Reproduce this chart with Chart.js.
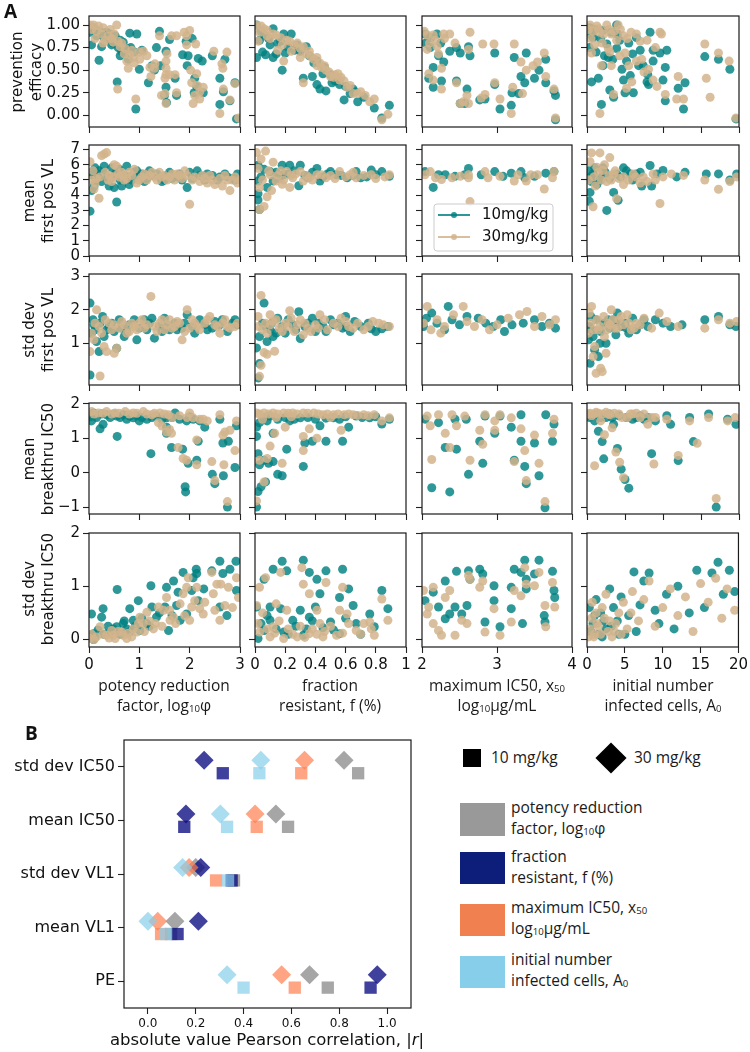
<!DOCTYPE html>
<html><head><meta charset="utf-8">
<script src="https://cdn.jsdelivr.net/npm/chart.js@4.4.1/dist/chart.umd.min.js"></script>
<style>
body{margin:0;background:#fff;width:750px;height:1052px;position:relative;overflow:hidden;font-family:'DejaVu Sans',sans-serif;color:#111}
canvas{position:absolute}
.lbl{position:absolute;text-align:center;font-family:'Open Sans',sans-serif;font-size:15.5px;line-height:20px;white-space:nowrap;color:#1a1a1a}
.lbl sub,.leg sub{font-size:0.62em;vertical-align:-1px;line-height:0}
.yt{position:absolute;transform:translate(-50%,-50%) rotate(-90deg);text-align:center;font-family:'DejaVu Sans',sans-serif;font-size:15px;line-height:19px;white-space:nowrap;color:#111}
.leg{position:absolute;font-family:'Open Sans',sans-serif;font-size:15.5px;line-height:21px;white-space:nowrap;color:#1a1a1a}
.pl{position:absolute;font-family:'Open Sans',sans-serif;font-weight:700;font-size:19px;color:#111}
.sw{position:absolute}
</style></head><body>
<script>
// ---------------- Panel A data (x = parameter, y = outcome) ----------------
// column 1: potency reduction factor log10(phi)
const phi_PE_10=[[0.02,0.92],[0.05,0.78],[0.2,0.61],[0.25,0.76],[0.45,0.78],[0.56,0.37],[0.62,0.83],[0.81,0.91],[0.95,0.9],[0.93,0.07],[1.0,0.51],[0.83,0.75],[1.18,0.36],[1.4,0.93],[1.34,0.75],[1.5,0.22],[1.54,0.14],[1.53,0.71],[1.53,0.31],[1.42,0.55],[1.71,0.41],[1.74,0.22],[1.86,0.67],[1.97,0.66],[1.93,0.82],[2.1,0.41],[2.14,0.32],[2.09,0.25],[2.27,0.25],[2.17,0.63],[2.45,0.66],[2.6,0.41],[2.6,0.12],[2.67,0.26],[2.8,0.16],[2.7,0.62],[2.93,-0.04],[2.9,0.36],[0.12,0.95],[0.35,0.92],[0.52,0.88],[0.68,0.81],[0.75,0.74],[0.65,0.71],[0.38,0.85],[0.62,0.66],[0.08,0.97],[0.15,0.88],[0.22,0.93],[0.3,0.86],[0.42,0.9],[0.48,0.8],[0.58,0.75],[0.7,0.7],[0.78,0.62],[0.9,0.7],[1.05,0.72],[1.25,0.55],[1.3,0.5],[1.6,0.84],[1.95,0.55],[2.05,0.85],[2.25,0.6]];
const phi_PE_30=[[0.09,1.0],[0.19,0.99],[0.28,0.97],[0.55,1.0],[0.57,0.29],[0.12,0.85],[0.28,0.8],[0.72,0.74],[0.78,0.52],[0.93,0.18],[1.01,0.62],[1.08,0.71],[1.23,0.43],[1.21,0.53],[1.4,0.88],[1.53,0.6],[1.53,0.52],[1.51,0.41],[1.51,0.24],[1.44,0.22],[1.53,0.13],[1.64,0.88],[1.71,0.45],[1.74,0.25],[1.89,0.92],[1.94,0.88],[2.0,0.94],[1.94,0.78],[2.04,0.36],[2.1,0.22],[2.14,0.46],[2.2,0.18],[2.27,0.31],[2.07,0.13],[2.12,0.79],[2.6,0.02],[2.64,0.57],[2.66,0.52],[2.67,0.29],[2.74,0.7],[2.8,0.17],[2.9,0.35],[2.48,0.71],[2.97,-0.03],[0.02,1.0],[0.42,0.95],[0.48,0.81],[0.62,0.76],[0.81,0.67],[0.88,0.64],[1.31,0.57],[1.74,0.88],[0.05,0.95],[0.15,0.93],[0.25,0.9],[0.32,0.83],[0.38,0.88],[0.45,0.85],[0.5,0.9],[0.58,0.82],[0.65,0.8],[0.7,0.68],[0.75,0.6],[0.85,0.72],[0.9,0.58],[1.0,0.7],[1.15,0.66],[1.3,0.52],[1.55,0.68],[1.6,0.45],[2.02,0.5],[2.15,0.33],[2.2,0.26],[1.53,0.45]];
const phi_mVL_10=[[0.02,2.95],[0.55,3.55],[0.05,4.3],[0.1,4.6],[0.05,5.5],[0.12,5.8],[0.2,5.6],[0.3,5.9],[0.35,5.2],[0.45,5.8],[0.5,4.5],[0.6,5.7],[0.7,5.3],[0.75,5.9],[0.8,4.7],[0.9,5.5],[1.0,5.2],[1.1,4.9],[1.2,5.6],[1.35,5.4],[1.5,5.0],[1.6,5.5],[1.75,5.2],[1.8,5.4],[1.95,4.5],[2.05,5.1],[2.15,5.6],[2.3,5.0],[2.45,5.3],[2.6,5.2],[2.7,5.4],[2.85,5.1],[2.95,5.4],[0.15,5.0],[0.25,4.9],[0.4,4.6],[0.65,4.6],[0.85,5.0],[1.45,4.9],[2.0,5.5],[0.08,5.3],[0.18,5.4],[0.28,5.5],[0.42,5.1],[0.52,5.4],[0.62,5.0],[0.78,5.2],[0.95,5.6],[1.05,5.4],[1.15,5.1],[1.25,5.3],[1.4,5.2],[1.55,5.3],[1.65,5.1],[1.85,5.0],[2.2,5.3],[2.35,5.4],[2.55,5.0],[2.75,5.2],[2.9,5.0]];
const phi_mVL_30=[[0.02,6.2],[0.25,6.6],[0.3,6.7],[0.35,6.8],[0.2,3.8],[0.1,4.4],[0.15,5.1],[0.4,5.3],[0.5,6.0],[0.55,5.9],[0.6,5.2],[0.7,5.0],[0.8,5.5],[0.9,5.7],[1.0,5.0],[1.1,5.4],[1.2,5.3],[1.3,5.2],[1.4,5.5],[1.5,5.3],[1.55,5.0],[1.7,5.0],[1.8,5.3],[1.9,5.6],[2.0,3.4],[2.1,5.2],[2.2,4.9],[2.3,5.1],[2.4,5.3],[2.5,4.7],[2.65,4.6],[2.75,5.0],[2.8,4.3],[2.9,5.2],[3.0,5.0],[0.05,5.0],[0.45,4.9],[0.65,5.5],[0.95,4.8],[1.65,5.4],[0.08,5.6],[0.12,4.8],[0.22,5.2],[0.32,5.5],[0.38,5.0],[0.48,5.2],[0.58,5.4],[0.68,5.3],[0.75,5.1],[0.85,5.3],[1.05,5.2],[1.15,5.0],[1.25,5.5],[1.35,5.0],[1.45,5.2],[1.6,5.2],[1.75,5.4],[1.85,5.1],[1.95,5.3],[2.05,5.0],[2.25,5.3],[2.35,4.8],[2.45,5.0],[2.6,5.1],[2.7,5.3],[2.85,5.0],[2.95,4.8]];
const phi_sVL_10=[[0.02,0.05],[0.02,2.2],[0.05,1.3],[0.1,1.55],[0.15,1.05],[0.2,0.75],[0.27,1.8],[0.3,1.2],[0.4,1.5],[0.5,1.35],[0.55,0.85],[0.6,1.7],[0.7,1.2],[0.8,1.55],[0.95,1.1],[1.0,1.45],[1.1,1.7],[1.2,1.6],[1.3,1.15],[1.4,1.5],[1.5,1.75],[1.6,1.4],[1.7,1.6],[1.85,1.45],[1.95,1.85],[2.05,1.5],[2.2,1.7],[2.35,1.4],[2.5,1.65],[2.6,1.55],[2.75,1.35],[2.85,1.6],[2.95,1.55],[0.35,1.4],[0.75,1.35],[1.45,1.35],[2.1,1.3],[0.08,1.7],[0.12,1.4],[0.22,1.6],[0.45,1.6],[0.65,1.45],[0.9,1.7],[1.15,1.4],[1.25,1.75],[1.55,1.55],[1.75,1.4],[1.9,1.6],[2.3,1.55],[2.45,1.45],[2.65,1.7],[2.9,1.7]];
const phi_sVL_30=[[0.22,0.02],[0.02,0.75],[0.1,1.1],[0.15,2.0],[0.3,0.9],[0.35,0.75],[0.5,0.7],[0.55,0.85],[0.2,1.5],[0.4,1.6],[0.6,1.45],[0.7,1.55],[0.8,1.35],[0.9,1.5],[1.0,1.6],[1.1,1.45],[1.23,2.4],[1.3,1.5],[1.4,1.6],[1.5,1.4],[1.6,1.7],[1.7,1.5],[1.8,1.6],[1.9,1.35],[1.95,2.0],[2.05,1.7],[2.15,1.5],[2.3,1.6],[2.4,1.8],[2.55,1.5],[2.7,1.7],[2.8,1.45],[2.95,1.6],[1.85,1.1],[2.6,1.3],[0.05,1.3],[0.12,1.6],[0.25,1.3],[0.32,1.7],[0.45,1.4],[0.5,1.55],[0.65,1.65],[0.75,1.3],[0.85,1.6],[0.95,1.4],[1.05,1.7],[1.15,1.55],[1.35,1.35],[1.45,1.7],[1.55,1.55],[1.65,1.45],[1.75,1.65],[2.0,1.45],[2.1,1.6],[2.2,1.4],[2.35,1.7],[2.5,1.55],[2.65,1.6],[2.75,1.5],[2.9,1.5]];
const phi_mIC_10=[[0.05,1.5],[0.22,1.27],[0.28,1.4],[0.56,1.05],[0.81,1.64],[1.0,1.5],[1.23,0.55],[1.54,1.14],[1.64,0.73],[1.71,1.73],[1.86,0.68],[1.91,-0.41],[1.92,-0.56],[1.97,0.27],[2.14,0.36],[2.17,0.91],[2.07,1.55],[2.3,1.32],[2.45,-0.05],[2.5,-0.32],[2.6,1.55],[2.66,0.86],[2.67,-0.09],[2.77,0.91],[2.75,-1.0],[2.9,0.15],[2.93,1.36],[0.09,1.73],[0.35,1.68],[0.55,1.64],[0.68,1.68],[0.88,1.59],[1.15,1.55],[1.34,1.64],[1.54,1.59],[1.94,1.5],[1.54,1.32],[0.02,1.62],[0.15,1.6],[0.25,1.7],[0.42,1.6],[0.5,1.7],[0.62,1.6],[0.75,1.55],[0.95,1.65],[1.05,1.6],[1.25,1.6],[1.45,1.55],[1.65,1.6],[1.8,1.55],[2.0,1.62],[2.2,1.5]];
const phi_mIC_30=[[0.05,1.77],[0.19,1.73],[0.35,1.77],[0.52,1.73],[0.72,1.77],[0.88,1.73],[1.08,1.77],[1.25,1.68],[1.41,1.73],[1.58,1.68],[1.38,1.45],[1.54,1.18],[1.64,1.14],[1.77,0.73],[1.87,0.41],[1.94,0.36],[2.0,1.73],[2.07,1.59],[2.14,0.23],[2.27,1.55],[2.44,0.32],[2.5,-0.23],[2.6,1.68],[2.66,1.09],[2.68,0.23],[2.8,1.23],[2.75,-0.84],[2.9,0.64],[2.93,1.5],[2.14,0.95],[2.7,1.18],[0.1,1.7],[0.28,1.72],[0.45,1.7],[0.6,1.72],[0.8,1.7],[0.95,1.72],[1.15,1.7],[1.3,1.72],[1.5,1.7],[1.65,1.6],[1.8,1.65],[1.95,1.6],[2.2,1.55],[2.35,1.5],[1.45,1.35],[1.6,1.25]];
const phi_sIC_10=[[0.05,0.48],[0.09,0.11],[0.25,0.42],[0.28,0.58],[0.56,0.94],[0.68,0.3],[0.81,0.58],[0.98,0.73],[1.01,0.17],[1.23,1.01],[1.25,0.61],[1.51,0.61],[1.54,0.98],[1.58,0.17],[1.77,0.89],[1.74,0.64],[1.68,1.1],[1.87,1.26],[1.94,0.48],[2.04,0.92],[2.07,1.16],[2.13,1.32],[2.14,1.24],[2.17,0.73],[2.28,0.95],[2.44,1.29],[2.6,1.47],[2.6,0.61],[2.66,1.24],[2.74,0.45],[2.92,1.47],[2.93,0.92],[2.8,1.32],[0.12,0.05],[0.42,0.14],[0.55,0.24],[0.75,0.2],[0.88,0.36],[1.15,0.3],[1.34,0.42],[1.81,0.36],[0.09,0.0],[0.02,0.08],[0.18,0.18],[0.3,0.1],[0.38,0.25],[0.48,0.2],[0.62,0.1],[0.7,0.35],[0.82,0.15],[0.92,0.25],[1.05,0.4],[1.2,0.25],[1.4,0.5],[1.65,0.45]];
const phi_sIC_30=[[0.02,0.02],[0.15,0.05],[0.22,0.24],[0.35,0.08],[0.45,0.17],[0.52,0.02],[0.65,0.14],[0.75,0.02],[0.85,0.05],[0.95,0.14],[1.01,0.42],[1.08,0.3],[1.15,0.51],[1.28,0.2],[1.38,0.61],[1.48,0.55],[1.54,0.79],[1.61,0.36],[1.68,0.42],[1.81,0.67],[1.87,0.86],[1.94,0.98],[1.97,1.16],[2.0,0.36],[2.04,0.61],[2.1,0.73],[2.14,0.98],[2.2,0.58],[2.27,0.48],[2.44,1.26],[2.47,0.86],[2.54,1.04],[2.6,0.36],[2.62,1.04],[2.7,0.64],[2.77,0.98],[2.93,1.16],[2.97,0.79],[0.05,0.1],[0.1,0.0],[0.28,0.1],[0.4,0.03],[0.48,0.08],[0.58,0.15],[0.68,0.08],[0.78,0.12],[0.88,0.2],[0.98,0.3],[1.1,0.15],[1.2,0.35],[1.32,0.3],[1.45,0.25],[1.6,0.55],[1.72,0.3],[1.9,0.45],[2.3,0.7],[2.5,0.55],[2.85,0.6]];
// column 2: fraction resistant f
const f_PE_10=[[0.01,1.0],[0.03,0.83],[0.01,0.64],[0.07,0.67],[0.12,0.96],[0.12,0.64],[0.18,0.5],[0.2,0.69],[0.24,0.9],[0.28,0.78],[0.34,0.76],[0.32,0.41],[0.38,0.43],[0.41,0.34],[0.43,0.29],[0.46,0.53],[0.47,0.27],[0.51,0.36],[0.56,0.34],[0.59,0.17],[0.63,0.24],[0.65,0.29],[0.68,0.15],[0.79,0.08],[0.89,0.11],[0.84,-0.03],[0.1,0.78],[0.17,0.82],[0.22,0.75],[0.3,0.71],[0.41,0.6],[0.45,0.46],[0.55,0.39],[0.06,0.89],[0.19,0.9],[0.04,0.93],[0.09,0.85],[0.15,0.8],[0.26,0.72],[0.36,0.66],[0.39,0.58],[0.5,0.45],[0.53,0.38],[0.6,0.32],[0.66,0.26],[0.72,0.2],[0.05,0.7],[0.14,0.68]];
const f_PE_30=[[0.01,1.0],[0.04,0.99],[0.08,0.94],[0.14,0.89],[0.21,0.83],[0.28,0.8],[0.32,0.76],[0.34,0.68],[0.39,0.62],[0.41,0.55],[0.44,0.53],[0.32,0.36],[0.5,0.43],[0.55,0.46],[0.56,0.39],[0.61,0.31],[0.65,0.24],[0.68,0.24],[0.76,0.15],[0.79,0.18],[0.84,-0.05],[0.88,0.01],[0.03,0.92],[0.1,0.85],[0.18,0.78],[0.19,0.6],[0.24,0.71],[0.3,0.64],[0.36,0.71],[0.41,0.64],[0.47,0.5],[0.53,0.45],[0.59,0.38],[0.02,0.82],[0.06,0.96],[0.12,0.9],[0.17,0.86],[0.23,0.82],[0.26,0.78],[0.3,0.74],[0.37,0.65],[0.43,0.58],[0.46,0.55],[0.49,0.48],[0.52,0.42],[0.57,0.42],[0.63,0.33],[0.7,0.26],[0.73,0.22],[0.15,0.72],[0.08,0.88]];
const f_mVL_10=[[0.02,5.97],[0.02,4.93],[0.02,3.68],[0.03,3.06],[0.02,4.1],[0.12,4.93],[0.18,5.97],[0.23,5.97],[0.3,5.97],[0.29,4.62],[0.41,5.76],[0.43,4.93],[0.5,5.55],[0.61,5.14],[0.67,5.55],[0.7,5.14],[0.77,5.65],[0.84,5.55],[0.89,5.24],[0.1,5.55],[0.19,5.34],[0.35,5.14],[0.54,5.34],[0.08,4.51],[0.04,5.2],[0.06,5.7],[0.14,5.5],[0.16,5.1],[0.22,5.4],[0.26,5.6],[0.33,5.3],[0.38,5.5],[0.45,5.2],[0.48,5.4],[0.57,5.3],[0.65,5.3],[0.74,5.2],[0.8,5.35]];
const f_mVL_30=[[0.01,6.8],[0.07,6.9],[0.04,6.38],[0.08,3.89],[0.06,3.26],[0.03,3.06],[0.1,5.34],[0.14,4.93],[0.21,5.55],[0.25,5.14],[0.3,5.55],[0.36,5.14],[0.41,5.34],[0.47,5.14],[0.56,5.55],[0.63,5.34],[0.67,5.14],[0.77,5.34],[0.89,5.34],[0.02,5.76],[0.12,6.17],[0.18,4.72],[0.23,4.51],[0.32,4.93],[0.03,4.5],[0.05,5.0],[0.09,5.6],[0.11,4.3],[0.15,5.3],[0.17,5.6],[0.19,5.0],[0.24,5.3],[0.27,5.4],[0.34,5.3],[0.38,5.0],[0.44,5.35],[0.5,5.3],[0.53,5.1],[0.6,5.2],[0.65,5.5],[0.72,5.3],[0.8,5.1],[0.86,5.2]];
const f_sVL_10=[[0.02,-0.04],[0.03,0.39],[0.01,0.86],[0.08,1.05],[0.06,2.2],[0.05,1.6],[0.1,1.4],[0.15,1.75],[0.2,1.3],[0.25,1.55],[0.29,1.94],[0.3,1.14],[0.35,1.6],[0.4,1.35],[0.45,1.5],[0.5,1.7],[0.55,1.6],[0.6,1.8],[0.63,1.35],[0.7,1.5],[0.77,1.43],[0.84,1.43],[0.88,1.5],[0.12,1.2],[0.18,1.5],[0.38,1.75],[0.58,1.45],[0.66,1.65],[0.03,1.2],[0.07,1.5],[0.11,1.6],[0.14,1.3],[0.22,1.7],[0.27,1.4],[0.33,1.5],[0.42,1.6],[0.47,1.35],[0.52,1.55],[0.6,1.5],[0.75,1.6],[0.8,1.35]];
const f_sVL_30=[[0.03,0.01],[0.04,0.34],[0.06,0.72],[0.08,0.67],[0.13,0.76],[0.04,2.43],[0.23,1.97],[0.02,1.5],[0.08,1.3],[0.12,1.65],[0.16,1.45],[0.2,1.6],[0.26,1.35],[0.3,1.7],[0.35,1.45],[0.4,1.55],[0.43,1.85],[0.48,1.4],[0.52,1.6],[0.57,1.75],[0.62,1.5],[0.68,1.6],[0.72,1.4],[0.78,1.65],[0.85,1.55],[0.89,1.5],[0.1,1.85],[0.32,1.25],[0.02,1.8],[0.05,1.4],[0.07,1.6],[0.1,1.55],[0.14,1.7],[0.18,1.35],[0.22,1.5],[0.24,1.75],[0.28,1.55],[0.33,1.6],[0.37,1.35],[0.42,1.45],[0.46,1.7],[0.55,1.5],[0.6,1.65],[0.65,1.45],[0.75,1.5],[0.82,1.6]];
const f_mIC_10=[[0.01,-1.0],[0.02,-0.55],[0.04,-0.41],[0.07,-0.27],[0.03,0.23],[0.02,0.55],[0.06,0.36],[0.09,0.27],[0.12,0.32],[0.15,-0.05],[0.18,-0.09],[0.21,0.68],[0.32,0.18],[0.33,0.86],[0.38,0.91],[0.47,0.91],[0.58,0.91],[0.01,1.32],[0.01,1.05],[0.12,1.14],[0.23,1.5],[0.43,1.36],[0.62,1.32],[0.84,1.41],[0.89,1.55],[0.1,1.64],[0.3,1.59],[0.52,1.59],[0.67,1.64],[0.76,1.59],[0.06,1.59],[0.03,1.45],[0.08,1.5],[0.15,1.55],[0.2,1.6],[0.26,1.55],[0.35,1.6],[0.4,1.55],[0.47,1.58],[0.56,1.55],[0.6,1.62],[0.71,1.6],[0.8,1.62]];
const f_mIC_30=[[0.01,-0.82],[0.06,-0.27],[0.03,0.36],[0.08,0.41],[0.1,0.77],[0.13,1.14],[0.18,0.27],[0.2,1.32],[0.32,0.64],[0.32,1.05],[0.36,1.27],[0.41,1.0],[0.57,1.23],[0.01,1.73],[0.06,1.73],[0.12,1.73],[0.19,1.73],[0.25,1.73],[0.32,1.73],[0.39,1.73],[0.45,1.68],[0.52,1.68],[0.59,1.68],[0.65,1.68],[0.72,1.68],[0.79,1.68],[0.89,1.59],[0.84,1.5],[0.03,1.7],[0.09,1.7],[0.15,1.7],[0.22,1.72],[0.28,1.7],[0.35,1.72],[0.42,1.7],[0.48,1.7],[0.55,1.7],[0.62,1.7],[0.68,1.66],[0.75,1.65],[0.05,1.55],[0.14,1.6],[0.24,1.62],[0.5,1.6]];
const f_sIC_10=[[0.18,1.47],[0.32,1.49],[0.12,1.32],[0.21,1.29],[0.36,1.26],[0.47,1.29],[0.58,1.32],[0.06,1.13],[0.41,1.13],[0.62,0.95],[0.43,0.86],[0.56,0.79],[0.84,0.92],[0.88,0.58],[0.01,0.61],[0.1,0.61],[0.17,0.58],[0.3,0.55],[0.4,0.61],[0.65,0.64],[0.76,0.48],[0.79,0.24],[0.56,0.11],[0.5,0.33],[0.1,0.36],[0.25,0.36],[0.36,0.42],[0.67,0.3],[0.06,0.17],[0.19,0.14],[0.32,0.08],[0.02,0.02],[0.04,0.3],[0.08,0.45],[0.14,0.2],[0.22,0.1],[0.27,0.25],[0.34,0.2],[0.38,0.35],[0.45,0.22],[0.52,0.18],[0.6,0.4],[0.7,0.1]];
const f_sIC_30=[[0.03,0.98],[0.07,1.16],[0.17,1.26],[0.31,1.35],[0.32,1.04],[0.36,0.86],[0.47,1.07],[0.58,0.98],[0.84,0.76],[0.88,0.36],[0.01,0.64],[0.14,0.67],[0.21,0.55],[0.41,0.55],[0.56,0.55],[0.61,0.48],[0.76,0.33],[0.79,0.08],[0.03,0.14],[0.1,0.05],[0.19,0.02],[0.28,0.05],[0.36,0.11],[0.45,0.05],[0.54,0.08],[0.67,0.17],[0.12,0.24],[0.43,0.3],[0.72,0.3],[0.02,0.3],[0.05,0.5],[0.08,0.2],[0.13,0.12],[0.16,0.35],[0.22,0.2],[0.25,0.1],[0.3,0.25],[0.33,0.04],[0.38,0.2],[0.41,0.1],[0.46,0.15],[0.5,0.25],[0.58,0.12],[0.62,0.3],[0.7,0.1],[0.77,0.2]];
// column 3: maximum IC50 x50 (log10 ug/mL)
const x50_PE_10=[[2.04,0.9],[2.2,0.9],[2.11,0.75],[2.22,0.66],[2.29,0.59],[2.15,0.53],[2.09,0.41],[2.15,0.31],[2.26,0.38],[2.37,0.71],[2.46,0.75],[2.51,0.69],[2.62,0.76],[2.64,0.66],[2.46,0.38],[2.6,0.29],[2.77,0.17],[2.84,0.18],[2.97,0.69],[2.97,0.34],[3.04,0.07],[3.19,0.11],[3.2,0.25],[3.23,0.64],[3.29,0.24],[3.32,0.43],[3.37,0.36],[3.5,0.41],[3.56,0.5],[3.65,0.62],[3.65,0.36],[3.76,0.27],[3.78,0.22],[3.78,-0.05],[2.57,0.13],[2.51,0.13],[3.39,0.69],[2.05,0.8],[2.12,0.86],[2.25,0.8]];
const x50_PE_30=[[2.07,0.89],[2.15,0.89],[2.29,0.9],[2.37,0.9],[2.64,0.92],[2.07,0.73],[2.2,0.76],[2.22,0.68],[2.26,0.52],[2.09,0.46],[2.15,0.39],[2.26,0.29],[2.44,0.8],[2.62,0.73],[2.6,0.22],[2.62,0.13],[2.51,0.13],[2.79,0.19],[2.84,0.23],[2.96,0.79],[2.81,0.79],[2.97,0.36],[3.04,0.18],[3.21,0.31],[3.19,0.02],[3.23,0.79],[3.32,0.59],[3.34,0.24],[3.39,0.5],[3.48,0.55],[3.54,0.59],[3.63,0.69],[3.65,0.43],[3.76,0.29],[3.78,-0.03],[2.46,0.36],[2.55,0.15],[2.03,0.93],[2.1,0.8],[2.18,0.83],[2.3,0.85]];
const x50_mVL_10=[[2.04,5.55],[2.15,4.51],[2.22,5.34],[2.31,5.34],[2.44,5.24],[2.62,5.76],[2.57,5.34],[2.79,5.34],[2.97,5.55],[3.19,5.45],[3.32,5.55],[3.5,5.24],[3.65,5.45],[3.76,5.55],[3.37,5.14],[3.08,5.24]];
const x50_mVL_30=[[2.04,5.34],[2.11,5.55],[2.18,5.14],[2.26,5.03],[2.4,5.14],[2.51,5.24],[2.62,5.34],[2.62,5.14],[2.64,3.58],[2.84,5.55],[2.88,5.14],[3.04,5.24],[3.23,4.93],[3.28,5.34],[3.39,4.93],[3.45,5.34],[3.63,4.41],[3.74,5.14],[3.76,5.55],[3.54,5.34]];
const x50_sVL_10=[[2.02,1.5],[2.06,1.75],[2.13,1.9],[2.2,1.6],[2.35,2.1],[2.4,1.7],[2.5,1.55],[2.6,1.8],[2.75,1.75],[2.85,1.6],[2.95,1.5],[3.05,1.7],[3.2,1.55],[3.35,1.6],[3.5,1.7],[3.6,1.5],[3.7,1.6],[3.78,1.45],[2.3,1.4],[3.1,1.35]];
const x50_sVL_30=[[2.02,1.6],[2.07,2.1],[2.12,1.4],[2.2,1.7],[2.3,1.5],[2.42,1.85],[2.55,2.1],[2.6,1.65],[2.7,1.5],[2.8,1.7],[2.9,1.4],[3.0,1.55],[3.15,1.75],[3.3,1.85],[3.4,1.95],[3.5,1.5],[3.6,1.8],[3.7,1.55],[3.78,1.7],[2.25,1.3]];
const x50_mIC_10=[[2.04,1.55],[2.22,1.45],[2.31,0.73],[2.46,0.68],[2.13,-0.44],[2.37,-0.56],[2.62,-0.05],[2.77,0.91],[2.81,0.27],[2.97,1.14],[3.19,1.32],[3.23,0.36],[3.32,0.91],[3.37,0.18],[3.39,-0.32],[3.5,0.86],[3.56,-0.09],[3.64,-1.02],[3.74,0.91],[3.76,1.41],[2.44,1.55],[2.59,1.55],[2.84,1.64],[3.04,1.64],[3.32,1.68],[3.65,1.68]];
const x50_mIC_30=[[2.07,1.64],[2.22,1.68],[2.4,1.68],[2.57,1.64],[2.11,1.36],[2.31,1.14],[2.13,0.38],[2.37,0.73],[2.46,1.36],[2.64,0.36],[2.77,1.23],[2.81,0.82],[2.97,1.23],[2.97,1.5],[3.19,1.59],[3.23,0.32],[3.32,1.27],[3.37,0.64],[3.39,-0.23],[3.5,1.09],[3.56,0.27],[3.64,-0.84],[3.74,1.14],[3.76,1.55],[3.04,1.68],[2.84,1.68]];
const x50_sIC_10=[[2.04,0.73],[2.15,0.89],[2.22,0.61],[2.31,1.1],[2.31,0.39],[2.37,0.48],[2.44,0.61],[2.46,1.28],[2.53,0.48],[2.6,0.64],[2.62,1.29],[2.64,1.13],[2.77,1.32],[2.81,1.23],[2.84,0.33],[2.96,1.01],[2.96,0.73],[3.04,0.24],[3.19,0.98],[3.19,0.58],[3.23,1.32],[3.32,1.26],[3.37,1.49],[3.39,1.13],[3.39,0.95],[3.5,1.23],[3.56,1.49],[3.63,0.45],[3.64,0.33],[3.74,1.28],[3.76,0.92],[3.77,0.79],[3.34,0.3]];
const x50_sIC_30=[[2.02,0.92],[2.15,0.98],[2.07,0.48],[2.15,0.3],[2.22,0.17],[2.26,0.08],[2.31,0.79],[2.37,0.92],[2.44,0.08],[2.53,0.36],[2.6,0.3],[2.62,1.2],[2.64,1.13],[2.77,0.98],[2.81,1.1],[2.84,0.14],[2.96,0.58],[3.04,0.08],[3.19,0.33],[3.23,0.92],[3.32,0.82],[3.37,1.35],[3.39,1.04],[3.5,1.01],[3.56,1.26],[3.64,0.64],[3.65,0.24],[3.74,1.07],[3.77,0.61],[2.09,0.61]];
// column 4: initial number of infected cells A0
const A0_PE_10=[[0.4,0.97],[2.1,0.94],[3.9,1.0],[0.8,0.86],[2.6,0.79],[3.9,0.74],[2.8,0.64],[4.6,0.51],[4.8,0.39],[1.5,0.41],[0.6,0.37],[3.0,0.28],[3.5,0.2],[1.9,0.12],[5.0,0.25],[6.1,0.25],[5.7,0.44],[7.0,0.72],[8.3,0.92],[7.4,0.55],[8.7,0.6],[8.1,0.34],[8.7,0.72],[9.6,0.69],[10.3,0.53],[10.0,0.39],[10.3,0.16],[10.5,0.72],[12.0,0.3],[12.7,0.07],[12.9,0.36],[15.5,0.65],[17.3,0.62],[18.8,0.51],[19.6,-0.04],[2.1,0.55],[4.3,0.83],[6.5,0.86],[7.9,0.37],[0.2,0.9],[1.0,0.95],[1.8,0.85],[3.2,0.92],[4.0,0.9],[5.5,0.8],[6.0,0.68],[0.3,0.75],[1.2,0.7],[2.3,0.66],[3.4,0.62],[5.2,0.6],[6.8,0.55],[8.0,0.45]];
const A0_PE_30=[[0.4,1.0],[1.3,0.99],[2.6,1.0],[4.1,1.0],[1.7,0.92],[3.2,0.9],[4.8,0.88],[6.5,0.9],[7.9,0.83],[9.6,0.92],[9.8,0.9],[0.6,0.69],[1.9,0.55],[3.2,0.55],[1.7,0.02],[3.5,0.23],[5.2,0.3],[5.9,0.37],[5.0,0.69],[7.2,0.62],[8.1,0.51],[8.7,0.39],[9.2,0.32],[10.3,0.23],[12.0,0.43],[11.8,0.18],[12.7,0.18],[15.5,0.79],[15.7,0.41],[16.2,0.2],[17.3,0.69],[18.7,0.6],[19.6,-0.03],[3.9,0.83],[2.8,0.74],[0.2,0.95],[0.8,0.93],[1.5,0.96],[2.2,0.9],[2.9,0.95],[3.6,0.93],[4.4,0.95],[5.3,0.85],[5.8,0.92],[7.0,0.82],[0.5,0.85],[1.0,0.78],[2.0,0.8],[3.0,0.7],[4.3,0.66],[5.5,0.55],[6.5,0.6],[7.5,0.48],[9.0,0.75]];
const A0_mVL_10=[[0.4,4.18],[0.6,4.9],[0.8,5.4],[2.1,5.8],[2.6,3.0],[4.1,3.66],[3.5,4.18],[4.8,5.8],[6.5,5.4],[8.3,5.95],[9.2,5.4],[10.0,5.63],[11.8,5.2],[12.9,5.5],[15.7,5.4],[17.3,5.4],[18.8,5.0],[19.7,5.4],[7.2,4.6],[8.5,4.6],[5.7,5.4],[1.7,5.0],[3.9,5.4],[0.2,5.6],[0.5,5.2],[1.0,5.8],[1.3,4.7],[2.0,5.2],[2.4,5.5],[3.0,5.1],[4.4,5.2],[5.2,5.6],[6.0,5.0],[7.0,5.5],[0.3,3.6]];
const A0_mVL_30=[[0.6,6.78],[1.7,6.78],[3.0,6.47],[0.8,3.24],[3.9,3.76],[2.1,5.63],[3.5,5.4],[4.8,5.2],[6.1,5.4],[7.4,5.2],[8.7,5.4],[9.6,3.45],[10.0,5.2],[11.1,5.4],[12.7,5.3],[15.5,5.0],[17.3,4.39],[18.8,4.9],[19.7,5.2],[1.3,5.84],[2.6,4.9],[4.8,4.7],[7.9,4.9],[0.2,5.0],[0.4,6.2],[0.9,5.2],[1.1,4.6],[1.5,5.5],[1.9,5.0],[2.3,6.0],[2.9,5.3],[3.2,5.0],[3.7,5.6],[4.2,5.1],[5.5,5.0],[6.4,5.2],[7.0,4.8],[9.0,5.0]];
const A0_sVL_10=[[0.3,1.5],[0.5,1.8],[0.8,1.2],[1.0,0.8],[1.5,0.6],[1.8,1.35],[2.2,1.6],[2.5,1.0],[3.0,1.45],[3.5,1.7],[4.0,1.9],[4.5,1.5],[5.0,1.6],[5.5,1.3],[6.0,1.75],[7.0,1.55],[8.0,1.5],[9.0,1.7],[10.0,1.6],[11.0,1.5],[12.5,1.55],[15.5,1.7],[17.3,1.8],[18.8,1.55],[19.6,1.5],[3.8,1.25],[6.5,1.4],[0.2,1.1],[0.6,1.4],[1.2,1.7],[1.7,1.0],[2.8,1.7],[3.3,1.5],[4.2,1.6],[5.2,1.45],[7.5,1.7],[0.4,0.4]];
const A0_sVL_30=[[0.3,1.9],[0.6,2.1],[0.8,0.6],[1.2,0.1],[1.5,1.4],[1.8,0.25],[2.0,0.15],[2.3,1.2],[2.8,1.6],[3.2,2.0],[3.6,1.45],[4.2,1.7],[4.8,1.55],[5.3,1.85],[5.8,1.4],[6.5,1.6],[7.5,1.75],[8.5,1.45],[9.5,1.9],[10.5,1.65],[12.0,1.5],[15.5,1.45],[17.3,1.7],[18.8,1.6],[19.7,1.65],[1.0,0.9],[2.5,0.7],[0.2,1.3],[0.5,1.6],[0.9,1.4],[1.3,1.7],[1.7,1.5],[2.2,1.8],[2.6,1.4],[3.0,1.55],[3.4,1.7],[4.0,1.45],[4.5,1.8],[5.5,1.6],[6.2,1.45],[7.0,1.55]];
const A0_mIC_10=[[0.3,1.6],[1.0,1.5],[1.5,1.2],[2.0,0.9],[2.5,1.6],[3.0,1.7],[3.5,1.4],[4.0,0.7],[4.5,0.1],[5.0,-0.2],[5.5,-0.45],[6.0,1.55],[7.0,1.65],[8.0,1.6],[9.0,1.5],[10.5,1.65],[12.0,0.35],[13.5,1.6],[14.0,0.9],[16.0,1.7],[17.0,-1.0],[18.5,1.55],[19.6,1.4],[8.5,0.55],[2.2,0.4],[11.0,1.4],[0.5,1.65],[1.2,1.7],[1.8,1.6],[3.3,1.6],[4.2,1.65],[5.2,1.6],[6.5,1.6],[7.5,1.55]];
const A0_mIC_30=[[0.2,1.7],[0.6,1.65],[1.2,1.75],[1.8,1.5],[2.3,1.1],[2.8,1.7],[3.3,1.3],[3.8,0.6],[4.3,0.3],[4.8,-0.15],[5.3,1.6],[6.0,1.7],[7.0,1.6],[8.0,1.4],[9.0,1.6],[10.5,1.55],[12.0,0.5],[13.5,1.5],[14.5,0.85],[16.0,1.6],[17.0,-0.75],[18.5,1.5],[19.5,1.6],[1.0,0.2],[8.8,0.25],[0.4,1.72],[0.9,1.7],[1.5,1.72],[2.0,1.7],[2.5,1.75],[3.0,1.68],[3.6,1.72],[4.2,1.7],[4.6,1.6],[5.7,1.7],[6.5,1.72],[7.5,1.7],[8.5,1.6]];
const A0_sIC_10=[[0.3,0.6],[0.8,0.3],[1.2,0.75],[1.8,0.5],[2.5,0.2],[3.0,0.95],[3.5,0.6],[4.0,0.35],[4.5,0.8],[5.0,0.1],[5.5,0.45],[6.2,1.27],[7.0,0.65],[7.5,1.1],[8.2,1.25],[9.0,0.55],[9.5,0.3],[10.5,0.85],[11.5,0.2],[12.0,1.0],[13.5,0.5],[14.5,1.3],[15.5,0.6],[16.5,1.25],[17.3,1.45],[18.0,0.85],[18.8,1.3],[19.5,0.9],[2.0,0.05],[6.5,0.15],[0.5,0.15],[1.5,0.1],[2.2,0.35],[3.2,0.25],[4.2,0.1],[1.0,0.45]];
const A0_sIC_30=[[0.2,0.05],[0.6,0.4],[1.0,0.1],[1.5,0.25],[2.0,0.6],[2.5,0.85],[3.0,0.35],[3.6,0.15],[4.2,0.5],[4.8,0.7],[5.3,0.2],[6.0,0.9],[6.8,0.35],[7.5,0.75],[8.2,1.1],[9.0,0.25],[10.0,0.6],[11.0,0.95],[12.0,0.45],[13.0,0.8],[14.0,0.15],[15.0,1.05],[16.0,0.7],[17.0,1.15],[17.8,0.4],[18.5,0.95],[19.5,0.55],[1.2,0.5],[3.3,0.05],[0.4,0.2],[0.9,0.05],[1.3,0.3],[1.8,0.1],[2.3,0.4],[2.8,0.15],[3.8,0.3],[4.5,0.1],[5.8,0.5],[0.7,0.7]];

// tick values
const xTicksPhi=[0,1,2,3], xTicksF=[0,0.2,0.4,0.6,0.8,1], xTicksX50=[2,3,4], xTicksA0=[0,5,10,15,20];
const yTicksPE=[0,0.25,0.5,0.75,1], yTicksMVL=[0,1,2,3,4,5,6,7], yTicksSVL=[1,2,3], yTicksMIC=[-1,0,1,2], yTicksSIC=[0,1,2];
const doseLabels=['10mg/kg','30mg/kg'];

// ---------------- Panel B data: |r| by outcome ----------------
const outcomesB=['PE','mean VL1','std dev VL1','mean IC50','std dev IC50'];
const potency_10=[0.752,0.097,0.36,0.586,0.879];
const potency_30=[0.676,0.113,0.2,0.535,0.82];
const fraction_10=[0.931,0.124,0.35,0.152,0.313];
const fraction_30=[0.959,0.211,0.221,0.159,0.235];
const maxIC50_10=[0.614,0.055,0.285,0.455,0.641];
const maxIC50_30=[0.559,0.041,0.172,0.448,0.655];
const initCells_10=[0.40,0.076,0.335,0.331,0.466];
const initCells_30=[0.331,0.0,0.145,0.303,0.472];
const rTicks=[0,0.2,0.4,0.6,0.8,1.0];

// ---------------- build ----------------
const TEAL='rgba(0,128,128,0.82)', TAN='rgba(210,180,140,0.85)';
const TICKFONT={family:'DejaVu Sans',size:15};
const fmtNum=v=>(v<0?'\u2212'+Math.abs(v):String(v));
const COLS=[
 {ticks:xTicksPhi,min:0,max:3},
 {ticks:xTicksF,min:0,max:1},
 {ticks:xTicksX50,min:2,max:4},
 {ticks:xTicksA0,min:0,max:20}];
const ROWS=[
 {ticks:yTicksPE,min:-0.13,max:1.10,fmt:v=>v.toFixed(2)},
 {ticks:yTicksMVL,min:0,max:7.3,fmt:fmtNum},
 {ticks:yTicksSVL,min:-0.25,max:3.07,fmt:fmtNum},
 {ticks:yTicksMIC,min:-1.2,max:2.02,fmt:fmtNum},
 {ticks:yTicksSIC,min:-0.14,max:2.0,fmt:fmtNum}];
const GRID=[
 [[phi_PE_10,phi_PE_30],[f_PE_10,f_PE_30],[x50_PE_10,x50_PE_30],[A0_PE_10,A0_PE_30]],
 [[phi_mVL_10,phi_mVL_30],[f_mVL_10,f_mVL_30],[x50_mVL_10,x50_mVL_30],[A0_mVL_10,A0_mVL_30]],
 [[phi_sVL_10,phi_sVL_30],[f_sVL_10,f_sVL_30],[x50_sVL_10,x50_sVL_30],[A0_sVL_10,A0_sVL_30]],
 [[phi_mIC_10,phi_mIC_30],[f_mIC_10,f_mIC_30],[x50_mIC_10,x50_mIC_30],[A0_mIC_10,A0_mIC_30]],
 [[phi_sIC_10,phi_sIC_30],[f_sIC_10,f_sIC_30],[x50_sIC_10,x50_sIC_30],[A0_sIC_10,A0_sIC_30]]];
const colL=[89,255,422,587], colR=[240,406,572,739];
const rowT=[14,143,272,401,531], rowB=[131,260,389,518,647];

function mkCanvas(left,top,w,h){
  const c=document.createElement('canvas');
  c.width=w;c.height=h;c.style.left=left+'px';c.style.top=top+'px';c.style.width=w+'px';c.style.height=h+'px';
  document.body.appendChild(c);return c;
}
const frame={id:'frame',afterDatasetsDraw(ch){const a=ch.chartArea,ctx=ch.ctx;ctx.save();ctx.strokeStyle='#1a1a1a';ctx.lineWidth=1.2;ctx.strokeRect(a.left,a.top,a.right-a.left,a.bottom-a.top);ctx.restore();}};
const toPts=arr=>arr.map(p=>({x:p[0],y:p[1]}));
function axis(cfg,showLabels,fmt,fitKey,fitVal,font){
  return {type:'linear',min:cfg.min,max:cfg.max,
    afterBuildTicks:s=>{s.ticks=cfg.ticks.map(v=>({value:v}));},
    afterFit:s=>{s[fitKey]=fitVal;},
    ticks:{autoSkip:false,maxRotation:0,minRotation:0,padding:3,font:font||TICKFONT,color:'#111',
      callback:v=>showLabels?fmt(v):''},
    grid:{display:true,drawOnChartArea:false,drawTicks:true,tickLength:6,tickColor:'#222',tickWidth:1.1},
    border:{display:false}};
}
function legendPlugin(ox,oy){
  return {id:'leg',afterDraw(ch){
    const ctx=ch.ctx;ctx.save();
    const x0=434-ox,y0=204-oy,w=119,h=47,r=3;
    ctx.fillStyle='rgba(255,255,255,0.85)';ctx.strokeStyle='#cccccc';ctx.lineWidth=1;
    ctx.beginPath();ctx.moveTo(x0+r,y0);ctx.lineTo(x0+w-r,y0);ctx.quadraticCurveTo(x0+w,y0,x0+w,y0+r);
    ctx.lineTo(x0+w,y0+h-r);ctx.quadraticCurveTo(x0+w,y0+h,x0+w-r,y0+h);ctx.lineTo(x0+r,y0+h);
    ctx.quadraticCurveTo(x0,y0+h,x0,y0+h-r);ctx.lineTo(x0,y0+r);ctx.quadraticCurveTo(x0,y0,x0+r,y0);ctx.closePath();
    ctx.fill();ctx.stroke();
    [[TEAL,215],[TAN,237]].forEach((e,i)=>{
      const yy=e[1]-oy;
      ctx.strokeStyle=e[0];ctx.lineWidth=2;ctx.beginPath();ctx.moveTo(438-ox,yy);ctx.lineTo(470-ox,yy);ctx.stroke();
      ctx.fillStyle=e[0];ctx.beginPath();ctx.arc(454-ox,yy,3,0,Math.PI*2);ctx.fill();
      ctx.fillStyle='#111';ctx.font='15px "DejaVu Sans"';ctx.textBaseline='middle';ctx.textAlign='left';
      ctx.fillText(doseLabels[i],482-ox,yy+0.5);
    });
    ctx.restore();
  }};
}
for(let r=0;r<5;r++){
  for(let c=0;c<4;c++){
    const WY=c===0?89:10, HX=r===4?30:8, PT=10, PR=12;
    const pw=colR[c]-colL[c], ph=rowB[r]-rowT[r];
    const left=colL[c]-WY, top=rowT[r]-PT;
    const cv=mkCanvas(left,top,WY+pw+PR,PT+ph+HX);
    const [d10,d30]=GRID[r][c];
    const plugins=[frame];
    if(r===1&&c===2) plugins.push(legendPlugin(left,top));
    new Chart(cv,{type:'scatter',
      data:{datasets:[
        {label:doseLabels[0],data:toPts(d10),backgroundColor:TEAL,pointRadius:4.5,pointHoverRadius:4.5,borderWidth:0,order:2,clip:0},
        {label:doseLabels[1],data:toPts(d30),backgroundColor:TAN,pointRadius:4.5,pointHoverRadius:4.5,borderWidth:0,order:1,clip:0}]},
      options:{responsive:false,animation:false,devicePixelRatio:1,events:[],
        layout:{padding:{left:0,top:PT,right:PR,bottom:0}},
        plugins:{legend:{display:false},tooltip:{enabled:false}},
        scales:{
          x:axis(COLS[c],r===4,fmtNum,'height',HX),
          y:axis(ROWS[r],c===0,ROWS[r].fmt,'width',WY)}},
      plugins});
  }
}

// Panel B
const PRED=[
 {v10:potency_10,v30:potency_30,rgb:'128,128,128',a:0.7},
 {v10:fraction_10,v30:fraction_30,rgb:'10,10,130',a:0.78},
 {v10:maxIC50_10,v30:maxIC50_30,rgb:'255,127,80',a:0.7},
 {v10:initCells_10,v30:initCells_30,rgb:'135,206,235',a:0.7}];
const dsB=[];
PRED.forEach(p=>{
  dsB.push({data:p.v10.map((v,i)=>({x:v,y:i-0.12})),pointStyle:'rect',pointRadius:8.7,pointHoverRadius:8.7,backgroundColor:`rgba(${p.rgb},${p.a})`,borderWidth:0});
  dsB.push({data:p.v30.map((v,i)=>({x:v,y:i+0.12})),pointStyle:'rectRot',pointRadius:9.5,pointHoverRadius:9.5,backgroundColor:`rgba(${p.rgb},${p.a})`,borderWidth:0});
});
dsB.forEach((d,i)=>{d.order=dsB.length-i;d.clip=0;});
{
  const WY=124,PT=15,HX=25,PR=19;
  const cv=mkCanvas(0,740-PT,WY+287+PR,PT+268+HX);
  new Chart(cv,{type:'scatter',data:{datasets:dsB},
    options:{responsive:false,animation:false,devicePixelRatio:1,events:[],
      layout:{padding:{left:0,top:PT,right:PR,bottom:0}},
      plugins:{legend:{display:false},tooltip:{enabled:false}},
      scales:{
        x:axis({ticks:rTicks,min:-0.1,max:1.1},true,v=>v.toFixed(1),'height',HX,{family:'DejaVu Sans',size:12}),
        y:axis({ticks:[0,1,2,3,4],min:-0.5,max:4.5},true,v=>outcomesB[v],'width',WY,{family:'DejaVu Sans',size:16})}},
    plugins:[frame]});
}
</script>

<!-- panel labels -->
<div class="pl" style="left:4px;top:-2px">A</div>
<div class="pl" style="left:25px;top:720px">B</div>

<!-- y titles panel A -->
<div class="yt" style="left:27px;top:72px">prevention<br>efficacy</div>
<div class="yt" style="left:39px;top:201px">mean<br>first pos VL</div>
<div class="yt" style="left:39px;top:330px">std dev<br>first pos VL</div>
<div class="yt" style="left:39px;top:459px">mean<br>breakthru IC50</div>
<div class="yt" style="left:39px;top:589px">std dev<br>breakthru IC50</div>

<!-- x titles panel A -->
<div class="lbl" style="left:64px;width:200px;top:675px">potency reduction<br>factor, log<sub>10</sub>φ</div>
<div class="lbl" style="left:230px;width:200px;top:675px">fraction<br>resistant, f (%)</div>
<div class="lbl" style="left:397px;width:200px;top:675px">maximum IC50, x<sub>50</sub><br>log<sub>10</sub>μg/mL</div>
<div class="lbl" style="left:563px;width:200px;top:675px">initial number<br>infected cells, A<sub>0</sub></div>

<!-- panel B x title -->
<div style="position:absolute;left:67px;width:400px;top:1030px;text-align:center;font-family:'DejaVu Sans';font-size:16.5px;line-height:20px;color:#111">absolute value Pearson correlation, |<i>r</i>|</div>

<!-- panel B legend -->
<div class="sw" style="left:463px;top:749px;width:18px;height:18px;background:#000"></div>
<div class="leg" style="left:491px;top:747px">10 mg/kg</div>
<div class="sw" style="left:600px;top:747px;width:22px;height:22px;background:#000;transform:rotate(45deg)"></div>
<div class="leg" style="left:634px;top:747px">30 mg/kg</div>

<div class="sw" style="left:460px;top:803px;width:45px;height:33px;background:#999999"></div>
<div class="leg" style="left:511px;top:797px">potency reduction<br>factor, log<sub>10</sub>φ</div>
<div class="sw" style="left:460px;top:852px;width:45px;height:32px;background:#0c1d7a"></div>
<div class="leg" style="left:511px;top:846px">fraction<br>resistant, f (%)</div>
<div class="sw" style="left:460px;top:904px;width:45px;height:32px;background:#f0804f"></div>
<div class="leg" style="left:511px;top:897px">maximum IC50, x<sub>50</sub><br>log<sub>10</sub>μg/mL</div>
<div class="sw" style="left:460px;top:956px;width:45px;height:32px;background:#87ceeb"></div>
<div class="leg" style="left:511px;top:949px">initial number<br>infected cells, A<sub>0</sub></div>
</body></html>
